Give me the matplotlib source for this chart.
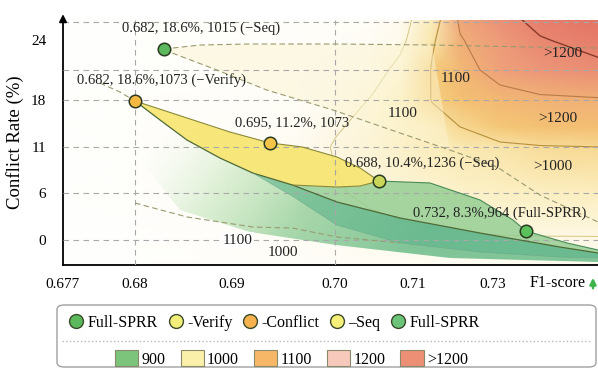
import numpy as np
import matplotlib
matplotlib.use("Agg")
import matplotlib.pyplot as plt
from matplotlib.colors import LinearSegmentedColormap, Normalize
from matplotlib.lines import Line2D
from matplotlib.patches import Patch, FancyBboxPatch, FancyArrowPatch

plt.rcParams['font.family'] = ['Liberation Serif', 'DejaVu Serif']

# ---- ticks (axes are not linear in the original) ----
f1_ticks = [0.677, 0.68, 0.69, 0.70, 0.71, 0.73]
f1_labels = ["0.677", "0.68", "0.69", "0.70", "0.71", "0.73"]
conf_ticks = [0, 6, 11, 18, 24]
conf_labels = ["0", "6", "11", "18", "24"]
f1_knots = [0.677, 0.68, 0.69, 0.70, 0.71, 0.73, 0.75, 0.77]
f1_knot_pos = [0, 72, 169, 272, 350, 430, 510, 590]
conf_knots = [-3.2, 0, 6, 11, 18, 24, 28]
conf_knot_pos = [0, 25, 72, 118, 165, 225, 265]

# ---- the five configurations ----
pt_f1 = [0.6830, 0.6800, 0.6937, 0.70564, 0.73825]
pt_conf = [23.1, 17.85, 11.6, 7.3, 1.15]
pt_labels = ["0.682, 18.6%, 1015 (\u2212Seq)", "0.682, 18.6%,1073 (\u2212Verify)",
             "0.695, 11.2%, 1073", "0.688, 10.4%,1236 (\u2212Seq)",
             "0.732, 8.3%,964 (Full-SPRR)"]
pt_colors = ["#5cb85c", "#f4b943", "#f4c548", "#c9d65a", "#5cc05c"]

# ---- latency surface (ms) ----
lat_f1 = [0.677, 0.68, 0.69, 0.69654, 0.70013, 0.70449, 0.70833, 0.71475,
          0.72175, 0.73175, 0.74175, 0.75725]
lat_conf = [26.5, 24, 21, 18, 14, 11, 6, 0, -3.2]
lat_grid = [
    [880, 885, 895, 910, 925, 940, 965, 1062, 1172, 1222, 1265, 1290],
    [880, 885, 895, 912, 930, 950, 975, 1092, 1156, 1195, 1235, 1265],
    [880, 885, 900, 925, 945, 965, 1005, 1105, 1140, 1180, 1205, 1225],
    [880, 890, 910, 940, 965, 992, 1040, 1103, 1125, 1140, 1150, 1155],
    [880, 890, 920, 955, 985, 1005, 1030, 1070, 1100, 1115, 1125, 1130],
    [880, 890, 925, 965, 995, 1010, 1030, 1055, 1080, 1095, 1098, 1100],
    [880, 890, 925, 960, 985, 1000, 1010, 1020, 1030, 1040, 1045, 1050],
    [880, 885, 910, 940, 960, 970, 975, 980, 982, 984, 985, 985],
    [880, 885, 905, 930, 945, 950, 955, 960, 962, 965, 968, 970],
]

# ---- band edges (conflict rate along f1) ----
yel_up_f1 = [0.680, 0.68536, 0.68979, 0.6937, 0.69683, 0.70026, 0.70321, 0.70564]
yel_up_c = [17.85, 15.32, 13.23, 11.6, 11.0, 9.91, 8.72, 7.3]
yel_lo_f1 = [0.680, 0.68258, 0.68536, 0.68876, 0.69202, 0.69587, 0.70026, 0.70321, 0.70564]
yel_lo_c = [17.85, 15.02, 12.04, 9.80, 8.17, 6.87, 6.65, 6.76, 7.3]
dark_f1 = [0.680, 0.68258, 0.68536, 0.68876, 0.69202, 0.69587, 0.70026, 0.70833,
           0.72675, 0.74675, 0.75625]
dark_c = [17.85, 15.02, 12.04, 9.80, 8.17, 6.87, 4.85, 2.81, 0.89, -0.90, -1.66]
mid_up_f1 = [0.70564, 0.71425, 0.72675, 0.735, 0.73825, 0.7485, 0.75625]
mid_up_c = [7.3, 7.09, 5.11, 2.55, 1.15, -0.38, -1.28]
teal_lo_f1 = [0.69202, 0.69587, 0.70026, 0.70833, 0.72675, 0.74675, 0.75625]
teal_lo_c = [8.17, 5.6, 1.9, -0.38, -1.54, -2.18, -2.30]
glow_lo_f1 = [0.75625, 0.71925, 0.7001, 0.69173, 0.68464, 0.68052]
glow_lo_c = [-2.82, -2.30, -0.64, 1.02, 3.83, 9.59]

# dashed iso-lines
d1_f1 = [0.6830, 0.6867, 0.69173, 0.7001, 0.71475, 0.739, 0.75625]
d1_c = [23.1, 23.5, 23.6, 23.6, 23.5, 23.3, 23.2]
d2_f1 = [0.6830, 0.68845, 0.69337, 0.6998, 0.70833, 0.71925, 0.731, 0.74175, 0.75625]
d2_c = [23.0, 21.0, 19.0, 16.51, 13.09, 10.67, 8.83, 5.74, 2.30]
d4_f1 = [0.680, 0.68536, 0.69202, 0.69587, 0.70026, 0.70833]
d4_c = [4.72, 2.94, 1.66, 1.53, 0.38, -0.38]
d0_f1 = [0.67854, 0.67937, 0.680]
d0_c = [19.7, 18.8, 17.85]

# ---- legend ----
legend_methods = ["Full-SPRR", "-Verify", "-Conflict", "\u2013Seq", "Full-SPRR"]
legend_method_colors = ["#5cb85c", "#f3ee7a", "#f5b24e", "#f6f07a", "#6cc47a"]
legend_levels = ["900", "1000", "1100", "1200", ">1200"]
legend_level_colors = ["#7cc47c", "#faf0aa", "#f6b866", "#f7c9bd", "#ec8f74"]


def fx(v):
    return np.interp(v, f1_knots, f1_knot_pos)


def fx_inv(p):
    return np.interp(p, f1_knot_pos, f1_knots)


def fy(v):
    return np.interp(v, conf_knots, conf_knot_pos)


def fy_inv(p):
    return np.interp(p, conf_knot_pos, conf_knots)


fig = plt.figure(figsize=(5.98, 3.70), dpi=100)
fig.patch.set_facecolor("white")
ax = fig.add_axes([63 / 598, 1 - 265 / 370, 535 / 598, 245 / 370])
ax.set_xscale("function", functions=(fx, fx_inv))
ax.set_yscale("function", functions=(fy, fy_inv))
ax.set_xlim(0.677, 0.75625)
ax.set_ylim(-3.2, 26.0)

# warm background
vlo, vhi = 880, 1290
stops = [(880, "#fefefc"), (960, "#fefcf4"), (990, "#fdf7e2"), (1040, "#fbf0c4"),
         (1095, "#f9e6ac"), (1105, "#f5cc78"), (1130, "#f3be72"), (1158, "#f0ae78"),
         (1175, "#efa47a"), (1210, "#ec9478"), (1240, "#e98670"), (1290, "#e37264")]
warm = LinearSegmentedColormap.from_list("warm", [((v - vlo) / (vhi - vlo), c) for v, c in stops])
FX, FY = np.meshgrid(lat_f1, lat_conf)
Z = np.array(lat_grid, dtype=float)
ax.pcolormesh(FX, FY, Z, cmap=warm, norm=Normalize(vlo, vhi), shading="gouraud", zorder=0)
ax.contour(FX, FY, Z, levels=[990, 1100, 1160, 1240],
           colors=["#cfbf78", "#b8903c", "#b87a48", "#8a3a2a"],
           linewidths=[0.6, 0.8, 0.8, 1.0], zorder=1)

# green glow under the front
glow = ax.fill(dark_f1 + glow_lo_f1, dark_c + glow_lo_c, color="none", lw=0)[0]
gx = np.linspace(0.677, 0.757, 220)
gy = np.linspace(-3.2, 18, 160)
GX, GY = np.meshgrid(gx, gy)
G = fx(GX) / 535 - fy(GY) / 700
green_cmap = LinearSegmentedColormap.from_list("g", [
    (0.0, (0.85, 0.94, 0.82, 0.0)), (0.3, (0.72, 0.88, 0.68, 0.5)),
    (0.6, (0.58, 0.81, 0.6, 0.8)), (1.0, (0.45, 0.75, 0.56, 0.9))])
mesh = ax.pcolormesh(GX, GY, G, cmap=green_cmap, norm=Normalize(0.0, 0.62),
                     shading="auto", antialiased=False, zorder=2)
mesh.set_clip_path(glow)

# pale tail from the top point
ax.fill(d1_f1[:5] + d2_f1[:6][::-1], d1_c[:5] + d2_c[:6][::-1],
        color="#fcf4d0", alpha=0.5, lw=0, zorder=2)

# bands
ax.fill(dark_f1[4:] + teal_lo_f1[::-1], dark_c[4:] + teal_lo_c[::-1],
        color="#5fb48c", alpha=0.6, lw=0, zorder=2.3)
ax.fill(yel_lo_f1[5:] + mid_up_f1[1:] + dark_f1[5:][::-1],
        yel_lo_c[5:] + mid_up_c[1:] + dark_c[5:][::-1],
        color="#8fcc90", alpha=0.8, lw=0, zorder=2.5)
ax.fill(yel_up_f1 + yel_lo_f1[::-1], yel_up_c + yel_lo_c[::-1],
        color="#f7e56e", alpha=0.9, lw=0, zorder=2.6)

# grid
for c in [25.8, 21, 18, 11, 6, 0]:
    ax.axhline(c, color="#a8a8a8", lw=0.8, ls=(0, (5, 4)), zorder=3)
for f in [0.68, 0.70]:
    ax.axvline(f, color="#a8a8a8", lw=0.8, ls=(0, (5, 4)), zorder=3)

# dashed iso-lines
for xs, ys in [(d1_f1, d1_c), (d2_f1, d2_c), (d4_f1, d4_c), (d0_f1, d0_c)]:
    ax.plot(xs, ys, color="#9a9a70", lw=0.8, ls=(0, (5, 3)), zorder=3.2)

# edges
ax.plot(dark_f1, dark_c, color="#4e6a36", lw=0.9, zorder=3.5)
ax.plot(yel_up_f1, yel_up_c, color="#8a8a3a", lw=0.8, zorder=3.5)
ax.plot(yel_lo_f1[5:], yel_lo_c[5:], color="#8a8a3a", lw=0.8, zorder=3.5)
ax.plot(mid_up_f1, mid_up_c, color="#4a8a58", lw=0.8, zorder=3.5)
ax.plot(teal_lo_f1, teal_lo_c, color="#6aa888", lw=0.5, alpha=0.7, zorder=3.5)

# points
for f, c, col in zip(pt_f1, pt_conf, pt_colors):
    ax.plot(f, c, "o", ms=9, mfc=col, mec="#2a3a20", mew=1.1, zorder=5)

label_pos = [(0.258, 0.968), (0.185, 0.755), (0.428, 0.58), (0.671, 0.416), (0.817, 0.212)]
for (px, py), t in zip(label_pos, pt_labels):
    ax.text(px, py, t, transform=ax.transAxes, ha="center", va="center",
            fontsize=10.5, color="#222222", zorder=6)

region_text = [("1100", 0.634, 0.62), ("1100", 0.733, 0.763), (">1200", 0.935, 0.865),
               (">1200", 0.925, 0.60), (">1000", 0.916, 0.40), ("1000", 0.411, 0.049)]
for t, px, py in region_text:
    ax.text(px, py, t, transform=ax.transAxes, ha="center", va="center",
            fontsize=11, color="#222222", zorder=6)
ax.text(0.327, 0.102, "1100", transform=ax.transAxes, ha="center", va="center",
        fontsize=11, color="#222222", zorder=6,
        bbox=dict(fc="white", ec="none", pad=1, alpha=0.85))

# axes styling
ax.set_xticks(f1_ticks)
ax.set_xticklabels(f1_labels)
ax.set_yticks(conf_ticks)
ax.set_yticklabels(conf_labels)
ax.minorticks_off()
ax.tick_params(axis="x", length=0, pad=9, labelsize=11)
ax.tick_params(axis="y", length=0, pad=12, labelsize=11)
for s in ["top", "right"]:
    ax.spines[s].set_visible(False)
ax.spines["left"].set_linewidth(1.3)
ax.spines["bottom"].set_linewidth(1.3)
ax.set_ylabel("Conflict Rate (%)", fontsize=13.5, labelpad=5)
ax.annotate("", xy=(0, 1.035), xytext=(0, 0.98), xycoords="axes fraction",
            arrowprops=dict(arrowstyle="-|>", color="black", lw=1.3, mutation_scale=11))

fig.text(558 / 598, 1 - 283 / 370, "F1-score", ha="center", va="center", fontsize=11.5)
fig.add_artist(FancyArrowPatch(
    (593 / 598, 1 - 291 / 370), (593 / 598, 1 - 275 / 370), transform=fig.transFigure,
    arrowstyle="-|>", mutation_scale=9, color="#3cb44b", lw=1.8))

# legend box
frame = FancyBboxPatch((57 / 598, 3 / 370), 539 / 598, 62 / 370,
                       boxstyle="round,pad=0,rounding_size=0.012",
                       transform=fig.transFigure, fc="white", ec="#a0a0a0", lw=1)
fig.patches.append(frame)
fig.add_artist(Line2D([62 / 598, 592 / 598], [1 - 341 / 370] * 2, transform=fig.transFigure,
                      ls=":", color="#b8b8b8", lw=1))

h1 = [Line2D([], [], ls="", marker="o", ms=10, mfc=c, mec="#3a4a2a", mew=1)
      for c in legend_method_colors]
fig.legend(h1, legend_methods, loc="center left", bbox_to_anchor=(70 / 598, 1 - 323 / 370),
           ncol=5, frameon=False, fontsize=11.5, handlelength=0.8, handletextpad=0.3,
           columnspacing=0.72, borderpad=0, borderaxespad=0)
h2 = [Patch(fc=c, ec="#8a8a6a", lw=0.8) for c in legend_level_colors]
fig.legend(h2, legend_levels, loc="center left", bbox_to_anchor=(115 / 598, 1 - 359 / 370),
           ncol=5, frameon=False, fontsize=11.5, handlelength=1.45, handleheight=1.1,
           handletextpad=0.2, columnspacing=0.95, borderpad=0, borderaxespad=0)

fig.savefig("out.png", dpi=100)
